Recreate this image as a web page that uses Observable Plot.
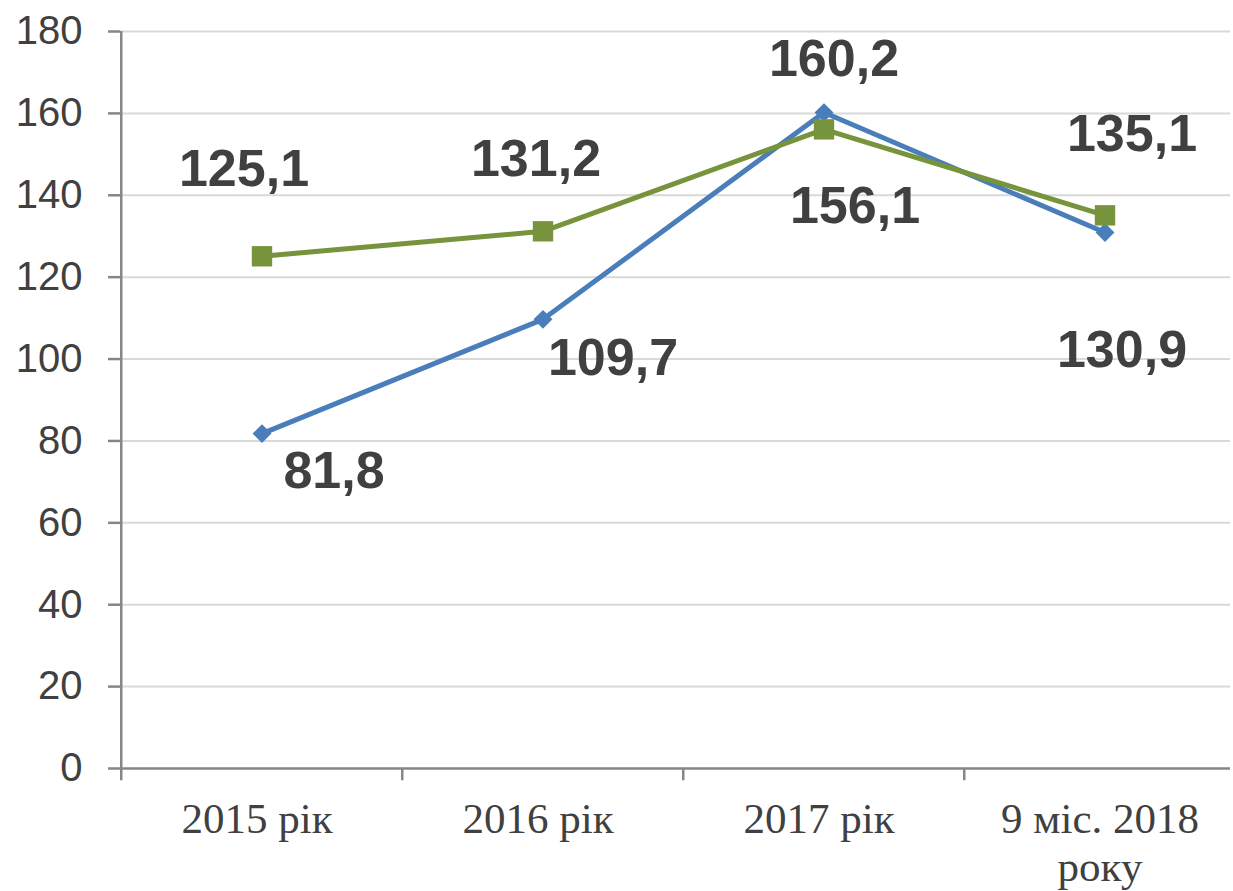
<!DOCTYPE html>
<html>
<head>
<meta charset="utf-8">
<script src="https://cdn.jsdelivr.net/npm/d3@7"></script>
<script src="https://cdn.jsdelivr.net/npm/@observablehq/plot@0.6"></script>
<style>
  html, body { margin: 0; padding: 0; background: #fff; }
</style>
</head>
<body>
<div id="chart"></div>
<script>
const categories = ["2015 рік", "2016 рік", "2017 рік", "9 міс. 2018\nроку"];
const blueValues = [81.8, 109.7, 160.2, 130.9];
const greenValues = [125.1, 131.2, 156.1, 135.1];
const yTicks = [0, 20, 40, 60, 80, 100, 120, 140, 160, 180];

// label offsets in pixels (styling only)
const blueLabelOffsets = [[72, 38], [70, 39], [10, -53], [17, 118]];
const greenLabelOffsets = [[-18, -87], [-7, -72], [31, 77], [27, -81]];

const blue = "#4A7EBB";
const green = "#77933C";
const textColor = "#404040";
const axisColor = "#868686";
const gridColor = "#D9D9D9";
const halfBand = 281.5 / 2;

const blueData = categories.map((c, i) => ({cat: c, value: blueValues[i]}));
const greenData = categories.map((c, i) => ({cat: c, value: greenValues[i]}));
const fmt = v => v.toFixed(1).replace(".", ",");

const labelMarks = [];
blueData.forEach((d, i) => {
  labelMarks.push(Plot.text([d], {
    x: "cat", y: "value", text: r => fmt(r.value),
    dx: blueLabelOffsets[i][0], dy: blueLabelOffsets[i][1],
    fill: textColor, fontSize: 52, fontWeight: "bold",
    fontFamily: "Liberation Sans, Arial, sans-serif",
    textAnchor: "middle", lineAnchor: "middle"
  }));
});
greenData.forEach((d, i) => {
  labelMarks.push(Plot.text([d], {
    x: "cat", y: "value", text: r => fmt(r.value),
    dx: greenLabelOffsets[i][0], dy: greenLabelOffsets[i][1],
    fill: textColor, fontSize: 52, fontWeight: "bold",
    fontFamily: "Liberation Sans, Arial, sans-serif",
    textAnchor: "middle", lineAnchor: "middle"
  }));
});

const chart = Plot.plot({
  width: 1233,
  height: 891,
  marginLeft: 120,
  marginRight: 3,
  marginTop: 31,
  marginBottom: 123,
  style: {background: "#fff", overflow: "visible"},
  x: {type: "band", domain: categories, range: [120, 1246], padding: 0},
  y: {domain: [0, 180], range: [768, 31]},
  marks: [
    Plot.ruleY(yTicks.filter(t => t > 0), {stroke: gridColor, strokeWidth: 2}),
    Plot.ruleY([0], {stroke: axisColor, strokeWidth: 2.5}),
    Plot.ruleX([categories[0]], {x: d => d, y1: 0, y2: 180, dx: -halfBand, stroke: axisColor, strokeWidth: 2.5}),
    Plot.ruleX(categories, {x: d => d, y1: 0, y2: -3, dx: -halfBand, stroke: axisColor, strokeWidth: 2.5}),
    Plot.axisY({
      ticks: yTicks, tickSize: 12, tickPadding: 26, stroke: axisColor, strokeWidth: 2.5,
      fill: textColor, fontSize: 40, fontFamily: "Liberation Sans, Arial, sans-serif",
      label: null
    }),
    Plot.axisX({
      tickSize: 0, tickPadding: 30, dx: -5, fill: textColor, fontSize: 43,
      fontFamily: "Liberation Serif, Times New Roman, serif", label: null, lineHeight: 1.12
    }),
    Plot.line(blueData, {x: "cat", y: "value", stroke: blue, strokeWidth: 5}),
    Plot.dot(blueData, {x: "cat", y: "value", symbol: "diamond2", r: 8.5, fill: blue, stroke: "none"}),
    Plot.line(greenData, {x: "cat", y: "value", stroke: green, strokeWidth: 5}),
    Plot.dot(greenData, {x: "cat", y: "value", symbol: "square", r: 11.5, fill: green, stroke: "none"}),
    ...labelMarks
  ]
});
document.getElementById("chart").appendChild(chart);
</script>
</body>
</html>
